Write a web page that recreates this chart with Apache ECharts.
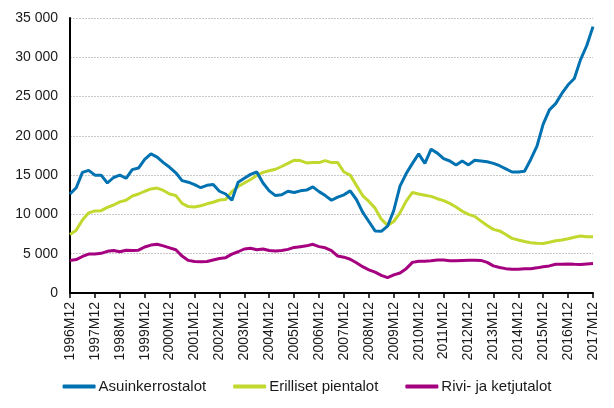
<!DOCTYPE html>
<html>
<head>
<meta charset="utf-8">
<script src="https://cdn.jsdelivr.net/npm/echarts@6/dist/echarts.min.js"></script>
<style>html,body{margin:0;padding:0;background:#fff}#c{width:614px;height:408px}</style>
</head>
<body>
<div id="c"></div>
<script>
// month offsets from 1996M12 (quarterly samples)
const monthOffsets = [0,3,6,9,12,15,18,21,24,27,30,33,36,39,42,45,48,51,54,57,60,
  63,66,69,72,75,78,81,84,87,90,93,96,99,102,105,108,111,114,117,120,123,126,
  129,132,135,138,141,144,147,150,153,156,159,162,165,168,171,174,177,180,183,186,189,
  192,195,198,201,204,207,210,213,216,219,222,225,228,231,234,237,240,243,246,249,252];

const seriesNames = ['Asuinkerrostalot', 'Erilliset pientalot', 'Rivi- ja ketjutalot'];

const asuinkerrostalot = [12600,13400,15350,15600,15000,15000,14000,14700,15000,14600,15700,15900,17000,17700,17300,16600,16000,15300,14300,14100,13800,
  13400,13700,13800,12950,12600,11800,14100,14600,15100,15400,14000,13000,12400,12500,12950,12800,13000,13100,13500,12900,12400,11800,
  12200,12500,13000,11900,10300,9100,7900,7850,8500,10500,13600,15200,16500,17700,16500,18300,17800,17100,16800,16300,16800,
  16300,16900,16800,16700,16500,16200,15800,15400,15400,15500,17000,18700,21500,23300,24100,25400,26500,27300,29700,31500,33900];

const erillisetPientalot = [7450,8000,9300,10200,10450,10480,10900,11200,11600,11800,12350,12600,12950,13250,13350,13050,12600,12400,11400,11000,10950,
  11100,11350,11550,11840,11900,12900,13550,14000,14450,14950,15350,15550,15750,16100,16500,16900,16850,16550,16600,16600,16850,16600,
  16600,15400,15000,13700,12400,11650,10800,9400,8600,9100,10200,11700,12800,12600,12450,12300,12000,11750,11400,10950,10400,
  10000,9750,9150,8600,8100,7900,7450,6950,6750,6550,6400,6320,6300,6450,6650,6750,6900,7100,7250,7150,7150];

const riviJaKetjutalot = [4150,4250,4650,4950,4950,5050,5300,5400,5250,5450,5400,5450,5850,6100,6200,6000,5750,5500,4700,4150,4000,
  3980,4000,4200,4400,4500,4950,5250,5600,5700,5500,5600,5400,5350,5400,5550,5800,5900,6000,6200,5900,5750,5400,
  4700,4560,4300,3850,3350,2950,2650,2250,1950,2300,2550,3100,3900,4050,4050,4100,4200,4200,4100,4100,4150,
  4170,4170,4150,3900,3450,3250,3100,3020,3020,3100,3100,3200,3350,3450,3650,3650,3700,3650,3620,3700,3750];

const startYear = 1996;
const colors = ['#0072b1', '#c2d82e', '#a5007f'];
const font = 'Liberation Sans, Arial, sans-serif';

function pairs(vals) { return monthOffsets.map((m, i) => [m, vals[i]]); }

const chart = echarts.init(document.getElementById('c'));
chart.setOption({
  animation: false,
  color: colors,
  textStyle: { fontFamily: font },
  grid: { left: 70, right: 21, top: 18, bottom: 115, containLabel: false },
  legend: {
    bottom: 9, left: 'center',
    itemWidth: 33, itemHeight: 4, itemGap: 27,
    icon: 'roundRect',
    textStyle: { fontSize: 15, color: '#1a1a1a', fontFamily: font, padding: [0, 0, 0, -2] },
    data: seriesNames
  },
  xAxis: {
    type: 'value', min: 0, max: 252, interval: 12,
    axisLine: { show: true, lineStyle: { color: '#000', width: 2 } },
    axisTick: { show: true, length: 5, lineStyle: { color: '#000', width: 1.5 } },
    splitLine: { show: false },
    axisLabel: {
      rotate: 90, margin: 9, fontSize: 14, color: '#1a1a1a', fontFamily: font,
      formatter: v => (startYear + Math.round(v / 12)) + 'M12'
    }
  },
  yAxis: {
    type: 'value', min: 0, max: 35000, interval: 5000,
    axisLine: { show: true, lineStyle: { color: '#000', width: 2 } },
    axisTick: { show: false },
    splitLine: { show: true, lineStyle: { color: '#c8c8c8', type: [2, 1], width: 1 } },
    axisLabel: {
      margin: 12, fontSize: 14, color: '#1a1a1a', fontFamily: font,
      formatter: v => String(v).replace(/\B(?=(\d{3})+(?!\d))/g, ' ')
    }
  },
  series: [
    { name: seriesNames[0], type: 'line', data: pairs(asuinkerrostalot), showSymbol: false, lineStyle: { width: 3 }, z: 3 },
    { name: seriesNames[1], type: 'line', data: pairs(erillisetPientalot), showSymbol: false, lineStyle: { width: 3 }, z: 2 },
    { name: seriesNames[2], type: 'line', data: pairs(riviJaKetjutalot), showSymbol: false, lineStyle: { width: 3 }, z: 2 }
  ]
});
</script>
</body>
</html>
